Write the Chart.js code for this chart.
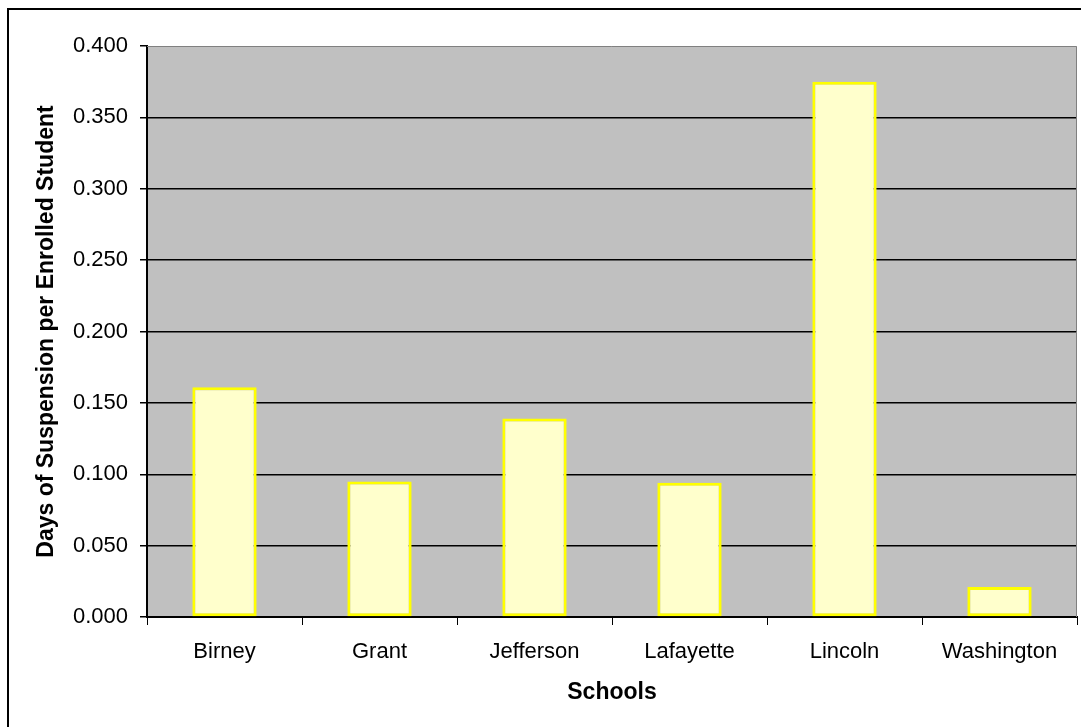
<!DOCTYPE html>
<html>
<head>
<meta charset="utf-8">
<script src="https://cdn.jsdelivr.net/npm/chart.js@4"></script>
<style>
  html, body { margin: 0; padding: 0; background: #ffffff; }
  #wrap { width: 1081px; height: 727px; position: relative; }
</style>
</head>
<body>
<div id="wrap"><canvas id="suspChart"></canvas></div>
<script>
// data
const SCHOOLS = ['Birney', 'Grant', 'Jefferson', 'Lafayette', 'Lincoln', 'Washington'];
const DAYS_PER_STUDENT = [0.161, 0.095, 0.139, 0.094, 0.375, 0.021];
const Y_MIN = 0;
const Y_MAX = 0.4;
const Y_STEP = 0.05;

const FONT = "'Liberation Sans', Arial, sans-serif";

// grey plot area, grey top/right edge, outer frame
const plotArea = {
    id: 'plotArea',
    beforeDraw(chart) {
        const { ctx, chartArea: a } = chart;
        ctx.save();
        ctx.fillStyle = '#c0c0c0';
        ctx.fillRect(a.left, a.top, a.right - a.left, a.bottom - a.top);
        ctx.restore();
    },
    afterDraw(chart) {
        const { ctx, chartArea: a } = chart;
        ctx.save();
        ctx.strokeStyle = '#808080';
        ctx.lineWidth = 1;
        ctx.beginPath();
        ctx.moveTo(a.left, Math.round(a.top) + 0.5);
        ctx.lineTo(Math.round(a.right) - 0.5, Math.round(a.top) + 0.5);
        ctx.lineTo(Math.round(a.right) - 0.5, a.bottom);
        ctx.stroke();
        // chart frame (right and bottom sides fall outside the picture)
        ctx.strokeStyle = '#000000';
        ctx.lineWidth = 2;
        ctx.strokeRect(8, 9, 1200, 900);
        ctx.restore();
    }
};

new Chart(document.getElementById('suspChart'), {
    type: 'bar',
    data: {
        labels: SCHOOLS,
        datasets: [{
            data: DAYS_PER_STUDENT,
            backgroundColor: '#ffffcc',
            borderColor: '#ffff00',
            borderWidth: 3,
            borderSkipped: false,
            categoryPercentage: 1,
            barPercentage: 0.415
        }]
    },
    options: {
        responsive: true,
        maintainAspectRatio: false,
        animation: false,
        layout: { padding: { top: 46, right: 4, bottom: 0, left: 0 } },
        plugins: {
            legend: { display: false },
            tooltip: { enabled: false }
        },
        scales: {
            x: {
                offset: true,
                grid: {
                    offset: true,
                    drawOnChartArea: false,
                    tickLength: 8,
                    tickColor: '#000000'
                },
                border: { color: '#000000', width: 2 },
                ticks: {
                    color: '#000000',
                    padding: 14,
                    font: { family: FONT, size: 22 }
                },
                title: {
                    display: true,
                    text: 'Schools',
                    color: '#000000',
                    padding: { top: 0, bottom: 21 },
                    font: { family: FONT, size: 23, weight: 'bold' }
                },
                afterFit(scale) { scale.height = 110; }
            },
            y: {
                min: Y_MIN,
                max: Y_MAX,
                grid: {
                    color: ctx => (ctx.tick && Math.abs(ctx.tick.value - Y_MAX) < 1e-9) ? 'rgba(0,0,0,0)' : '#000000',
                    tickColor: '#000000',
                    tickLength: 7,
                    lineWidth: 1.5
                },
                border: { color: '#000000', width: 2 },
                ticks: {
                    stepSize: Y_STEP,
                    color: '#000000',
                    padding: 12,
                    font: { family: FONT, size: 22 },
                    callback: v => Number(v).toFixed(3)
                },
                title: {
                    display: true,
                    text: 'Days of Suspension per Enrolled Student',
                    color: '#000000',
                    padding: { top: 33, bottom: 0 },
                    font: { family: FONT, size: 23, weight: 'bold' }
                },
                afterFit(scale) { scale.width = 147; }
            }
        }
    },
    plugins: [plotArea]
});
</script>
</body>
</html>
